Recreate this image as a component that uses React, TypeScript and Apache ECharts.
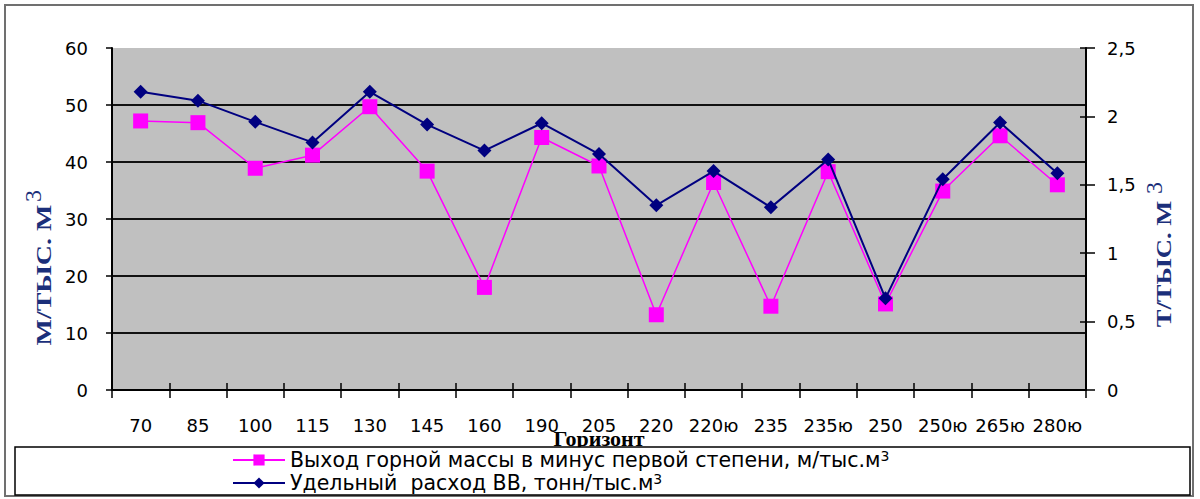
import React, { useEffect, useRef } from "react";
import * as echarts from "echarts";

const categories = ["70", "85", "100", "115", "130", "145", "160", "190", "205", "220", "220ю", "235", "235ю", "250", "250ю", "265ю", "280ю"];
const rockOutput = [47.2, 46.9, 38.9, 41.2, 49.7, 38.4, 18.0, 44.3, 39.3, 13.2, 36.4, 14.7, 38.3, 15.1, 34.9, 44.6, 36.0];
const explosiveUse = [2.18, 2.115, 1.96, 1.81, 2.18, 1.94, 1.75, 1.95, 1.725, 1.35, 1.6, 1.335, 1.685, 0.67, 1.54, 1.955, 1.585];

const seriesNames = [
  "Выход горной массы в минус первой степени, м/тыс.м³",
  "Удельный  расход ВВ, тонн/тыс.м³",
];
const leftAxis = { min: 0, max: 60, interval: 10 };
const rightAxis = { min: 0, max: 2.5, interval: 0.5 };
const xTitle = "Горизонт";
const leftTitle = "М/ТЫС. М";
const rightTitle = "Т/ТЫС. М";

export default function App() {
  const ref = useRef<HTMLDivElement>(null);
  useEffect(() => {
    if (!ref.current) return;
    const chart = echarts.init(ref.current, null, { renderer: "svg" });
    const tickFont = { fontFamily: "DejaVu Sans", fontSize: 18, color: "#000" };
    const titleColor = "#1b2f7a";
    const option: any = {
      animation: false,
      backgroundColor: "#fff",
      grid: {
        left: 112,
        right: 114,
        top: 48,
        bottom: 109,
        show: true,
        backgroundColor: "#c0c0c0",
        borderWidth: 0,
      },
      legend: {
        orient: "vertical",
        left: 232,
        top: 449,
        itemWidth: 52,
        itemHeight: 14,
        itemGap: 1,
        padding: 0,
        z: 5,
        data: seriesNames,
        formatter: (name: string) => name.replace("³", "") + "{s|3}",
        textStyle: {
          fontFamily: "DejaVu Sans",
          fontSize: 20.5,
          lineHeight: 22,
          color: "#000",
          rich: {
            s: { fontFamily: "DejaVu Sans", fontSize: 14, color: "#000", verticalAlign: "top", lineHeight: 22 },
          },
        },
      },
      xAxis: [
        {
          type: "category",
          data: categories,
          boundaryGap: true,
          position: "bottom",
          axisLine: { show: true, lineStyle: { color: "#000", width: 2 } },
          axisTick: { show: true, inside: false, length: 8, interval: 0, lineStyle: { color: "#000", width: 1.5 } },
          axisLabel: { ...tickFont, interval: 0, margin: 26 },
          splitLine: { show: false },
          name: xTitle,
          nameLocation: "middle",
          nameGap: 37,
          nameMoveOverlap: false,
          nameTextStyle: {
            fontFamily: "Liberation Serif",
            fontWeight: "bold",
            fontSize: 22,
            color: "#000",
            verticalAlign: "top",
          },
        },
        {
          type: "category",
          data: categories,
          boundaryGap: true,
          position: "bottom",
          axisLine: { show: false },
          axisTick: { show: true, inside: true, length: 7, interval: 0, lineStyle: { color: "#000", width: 1.5 } },
          axisLabel: { show: false },
          splitLine: { show: false },
        },
      ],
      yAxis: [
        {
          type: "value",
          position: "left",
          ...leftAxis,
          axisLine: { show: true, lineStyle: { color: "#000", width: 2 } },
          axisTick: { show: true, inside: false, length: 6, lineStyle: { color: "#000", width: 1.5 } },
          axisLabel: { ...tickFont, margin: 24 },
          splitLine: { show: true, showMinLine: false, showMaxLine: false, lineStyle: { color: "#111", width: 2 } },
        },
        {
          type: "value",
          position: "right",
          ...rightAxis,
          axisLine: { show: true, lineStyle: { color: "#000", width: 2 } },
          axisTick: { show: true, inside: false, length: 9, lineStyle: { color: "#000", width: 1.5 } },
          axisLabel: { ...tickFont, margin: 21, formatter: (v: number) => String(v).replace(".", ",") },
          splitLine: { show: false },
        },
        {
          type: "value",
          position: "right",
          ...rightAxis,
          axisLine: { show: false },
          axisTick: { show: true, inside: true, length: 6, lineStyle: { color: "#000", width: 1.5 } },
          axisLabel: { show: false },
          splitLine: { show: false },
        },
      ],
      series: [
        {
          name: seriesNames[0],
          type: "line",
          xAxisIndex: 0,
          yAxisIndex: 0,
          data: rockOutput,
          symbol: "rect",
          symbolSize: 15,
          lineStyle: { color: "#ff00ff", width: 1.5 },
          itemStyle: { color: "#ff00ff" },
          z: 2,
        },
        {
          name: seriesNames[1],
          type: "line",
          xAxisIndex: 0,
          yAxisIndex: 1,
          data: explosiveUse,
          symbol: "diamond",
          symbolSize: 14,
          lineStyle: { color: "#000080", width: 2 },
          itemStyle: { color: "#000080" },
          z: 3,
        },
      ],
      graphic: [
        {
          type: "rect",
          z: -10,
          shape: { x: 5, y: 5, width: 1188, height: 491 },
          style: { fill: "#fff", stroke: "#707070", lineWidth: 2 },
        },
        {
          type: "rect",
          z: 3,
          shape: { x: 15, y: 447, width: 1175, height: 48 },
          style: { fill: "#fff", stroke: "#000", lineWidth: 1.5 },
        },
        {
          type: "text",
          z: 10,
          x: 44,
          y: 275,
          rotation: Math.PI / 2,
          scaleX: 1.4,
          style: {
            text: leftTitle,
            font: "bold 20px 'Liberation Serif'",
            fill: titleColor,
            textAlign: "center",
            textVerticalAlign: "middle",
          },
        },
        {
          type: "text",
          z: 10,
          x: 33,
          y: 196,
          rotation: Math.PI / 2,
          style: {
            text: "3",
            font: "24px 'Liberation Serif'",
            fill: titleColor,
            textAlign: "center",
            textVerticalAlign: "middle",
          },
        },
        {
          type: "text",
          z: 10,
          x: 1164,
          y: 264,
          rotation: Math.PI / 2,
          scaleX: 1.33,
          style: {
            text: rightTitle,
            font: "bold 20px 'Liberation Serif'",
            fill: titleColor,
            textAlign: "center",
            textVerticalAlign: "middle",
          },
        },
        {
          type: "text",
          z: 10,
          x: 1154,
          y: 188,
          rotation: Math.PI / 2,
          style: {
            text: "3",
            font: "24px 'Liberation Serif'",
            fill: titleColor,
            textAlign: "center",
            textVerticalAlign: "middle",
          },
        },
      ],
    };
    chart.setOption(option);
    return () => chart.dispose();
  }, []);
  return <div ref={ref} style={{ position: "absolute", left: 0, top: 0, width: 1200, height: 499 }} />;
}
